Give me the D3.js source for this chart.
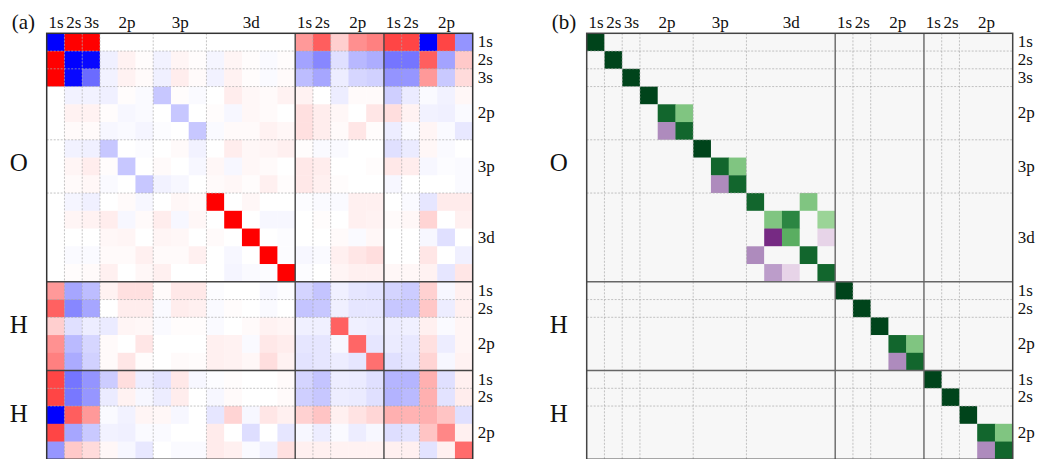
<!DOCTYPE html>
<html><head><meta charset="utf-8">
<script src="https://cdn.jsdelivr.net/npm/d3@7"></script>
<style>
body{margin:0;background:#fff;}
svg text{font-family:"Liberation Serif",serif;fill:#111;}
</style></head><body>
<svg id="chart" width="1037" height="459"></svg>
<script>
// Basis: O (1s 2s 3s 2p×3 3p×3 3d×5), H (1s 2s 2p×3), H (1s 2s 2p×3)
const atoms = ["O", "H", "H"];
const atomSizes = [14, 5, 5];
const shellLabels = ["1s","2s","3s","2p","3p","3d","1s","2s","2p","1s","2s","2p"];
const shellSizes  = [1, 1, 1, 3, 3, 5, 1, 1, 3, 1, 1, 3];

// (a) overlap-type matrix, rows/cols in basis order
const matrixA = [
  [-1, 1, 1, 0, 0, 0, 0, 0, 0, 0, 0, 0, 0, 0, 0.40, 0.63, 0.19, 0.44, 0.50, 0.73, 0.73, -1, 0.73, -0.42],
  [1, -1, -0.97, -0.06, 0.05, 0.01, -0.05, 0.04, 0.01, -0.04, 0.04, 0.01, -0.02, 0.01, -0.36, -0.47, -0.12, -0.28, -0.32, -0.54, -0.54, 0.63, -0.36, 0.21],
  [1, -0.97, -0.58, -0.05, 0.05, 0.02, -0.06, 0.07, 0.02, -0.05, 0.05, 0.01, -0.02, 0.02, -0.26, -0.35, -0.07, -0.16, -0.18, -0.42, -0.41, 0.40, -0.21, 0.14],
  [0, -0.05, -0.05, -0.06, 0.01, -0.02, -0.22, 0.01, -0.02, 0, 0.07, 0.03, 0.02, 0.05, 0.05, 0, -0.07, 0.02, 0.02, -0.19, -0.08, -0.02, -0.05, 0.03],
  [0, 0.05, 0.05, 0.01, -0.03, -0.02, 0, -0.22, 0, 0.01, -0.03, 0.03, 0.02, 0, 0.12, 0.07, 0.03, 0, 0.10, 0.13, 0.05, -0.05, -0.06, -0.02],
  [0, 0.02, 0.02, -0.03, -0.02, -0.04, -0.01, 0, -0.22, -0.02, 0.02, 0.02, 0.05, 0.03, 0.12, 0.07, 0.02, 0.10, 0.01, -0.07, -0.02, 0.04, -0.02, -0.09],
  [0, -0.05, -0.06, -0.22, 0, -0.01, 0, 0.02, -0.05, 0, 0.07, 0.03, 0.04, 0.06, 0.01, -0.02, -0.02, 0, 0, -0.12, -0.08, 0.03, -0.02, 0],
  [0, 0.04, 0.07, 0.01, -0.22, 0, 0.02, 0, -0.03, 0.03, -0.03, 0.03, 0.02, 0, 0.09, 0.07, 0, 0, 0.01, 0.09, 0.07, -0.03, -0.01, -0.02],
  [0, 0.02, 0.03, -0.02, 0, -0.22, -0.05, -0.03, 0, 0.02, 0.03, 0.01, 0.06, 0.01, 0.09, 0.06, 0.01, 0, 0, -0.03, 0, 0, 0, -0.02],
  [0, -0.04, -0.06, 0, 0.02, -0.03, 0, 0.03, 0.02, 1, 0, 0.03, 0, 0, -0.01, -0.02, -0.02, 0.06, 0.06, 0, -0.02, -0.10, 0.08, 0.08],
  [0, 0.04, 0.05, 0.07, -0.03, 0.02, 0.07, -0.03, 0.03, 0, 1, 0, -0.03, -0.03, 0, 0.01, 0, 0.06, 0.05, 0.02, 0.03, 0.17, 0, 0.06],
  [0, 0, 0, 0.03, 0.04, 0, 0.04, 0.03, 0, 0.02, 0, 1, 0, -0.01, 0, 0, 0.02, -0.02, 0.03, 0, 0, -0.03, -0.12, 0],
  [0, -0.02, -0.02, 0.02, 0.02, 0.06, 0.02, 0.02, 0.06, 0, -0.03, 0, 1, -0.01, -0.03, -0.02, 0.06, 0.10, 0.13, 0, 0, 0.10, 0, -0.06],
  [0, 0.01, 0.02, 0.06, 0, 0.03, 0.06, 0, 0, 0, -0.04, -0.02, -0.01, 1, -0.01, 0, 0.04, 0.06, 0.06, 0.03, 0.03, 0.05, -0.10, 0.10],
  [0.40, -0.35, -0.26, 0.05, 0.12, 0.12, 0.02, 0.09, 0.09, -0.01, 0, 0, -0.03, -0.01, -0.17, -0.23, -0.06, -0.10, -0.11, -0.17, -0.20, 0.18, -0.03, 0.06],
  [0.62, -0.47, -0.35, 0, 0.07, 0.07, -0.02, 0.07, 0.06, -0.02, 0.01, 0, -0.02, 0, -0.23, -0.22, -0.06, -0.10, -0.10, -0.22, -0.22, 0.22, -0.07, 0.06],
  [0.19, -0.12, -0.07, -0.08, 0.04, 0.03, -0.02, 0.01, 0.01, -0.02, 0, 0.02, 0.05, 0.04, -0.06, -0.06, 0.62, -0.06, -0.07, -0.07, -0.06, 0.06, -0.02, 0.04],
  [0.43, -0.27, -0.16, 0.02, 0, 0.10, 0, 0, 0, 0.06, 0.05, -0.02, 0.09, 0.07, -0.10, -0.10, -0.03, 0.60, -0.10, -0.08, -0.09, 0.12, -0.07, 0.04],
  [0.50, -0.33, -0.18, 0.02, 0.10, 0.01, 0, 0.02, 0.01, 0.06, 0.05, 0.03, 0.13, 0.05, -0.11, -0.10, -0.07, -0.10, 0.56, -0.12, -0.10, 0.17, -0.03, 0.05],
  [0.73, -0.54, -0.42, -0.20, 0.13, -0.07, -0.11, 0.09, -0.03, -0.01, 0.01, 0, 0, 0.02, -0.17, -0.23, -0.07, -0.08, -0.12, -0.29, -0.29, 0.31, -0.12, 0.06],
  [0.73, -0.53, -0.41, -0.08, 0.05, -0.03, -0.07, 0.07, 0, -0.03, 0.02, 0, 0, 0.02, -0.19, -0.22, -0.07, -0.08, -0.12, -0.30, -0.27, 0.31, -0.11, 0.07],
  [-1, 0.63, 0.40, -0.02, -0.05, 0.04, 0.03, -0.03, 0, -0.10, 0.17, -0.03, 0.10, 0.06, 0.18, 0.23, 0.06, 0.11, 0.16, 0.31, 0.30, 0.31, 0.23, -0.12],
  [0.73, -0.35, -0.21, -0.05, -0.06, -0.02, -0.02, 0, 0, 0.08, 0, -0.13, 0, -0.10, -0.03, -0.07, -0.02, -0.07, -0.03, -0.13, -0.11, 0.23, 0.47, 0.06],
  [-0.41, 0.21, 0.14, 0.03, -0.03, -0.09, 0, -0.02, -0.02, 0.08, 0.06, -0.02, -0.06, 0.12, 0.06, 0.06, 0.05, 0.05, 0.05, 0.06, 0.06, -0.11, 0.06, 0.58]
];

// (b) transformation matrix, same basis order
const matrixB = [
  [1,0,0,0,0,0,0,0,0,0,0,0,0,0,0,0,0,0,0,0,0,0,0,0],
  [0,1,0,0,0,0,0,0,0,0,0,0,0,0,0,0,0,0,0,0,0,0,0,0],
  [0,0,1,0,0,0,0,0,0,0,0,0,0,0,0,0,0,0,0,0,0,0,0,0],
  [0,0,0,1,0,0,0,0,0,0,0,0,0,0,0,0,0,0,0,0,0,0,0,0],
  [0,0,0,0,0.87,0.5,0,0,0,0,0,0,0,0,0,0,0,0,0,0,0,0,0,0],
  [0,0,0,0,-0.5,0.87,0,0,0,0,0,0,0,0,0,0,0,0,0,0,0,0,0,0],
  [0,0,0,0,0,0,1,0,0,0,0,0,0,0,0,0,0,0,0,0,0,0,0,0],
  [0,0,0,0,0,0,0,0.87,0.5,0,0,0,0,0,0,0,0,0,0,0,0,0,0,0],
  [0,0,0,0,0,0,0,-0.5,0.87,0,0,0,0,0,0,0,0,0,0,0,0,0,0,0],
  [0,0,0,0,0,0,0,0,0,0.87,0,0,0.5,0,0,0,0,0,0,0,0,0,0,0],
  [0,0,0,0,0,0,0,0,0,0,0.5,0.75,0,0.43,0,0,0,0,0,0,0,0,0,0],
  [0,0,0,0,0,0,0,0,0,0,-0.8,0.6,0,-0.2,0,0,0,0,0,0,0,0,0,0],
  [0,0,0,0,0,0,0,0,0,-0.5,0,0,0.87,0,0,0,0,0,0,0,0,0,0,0],
  [0,0,0,0,0,0,0,0,0,0,-0.43,-0.2,0,0.87,0,0,0,0,0,0,0,0,0,0],
  [0,0,0,0,0,0,0,0,0,0,0,0,0,0,1,0,0,0,0,0,0,0,0,0],
  [0,0,0,0,0,0,0,0,0,0,0,0,0,0,0,1,0,0,0,0,0,0,0,0],
  [0,0,0,0,0,0,0,0,0,0,0,0,0,0,0,0,1,0,0,0,0,0,0,0],
  [0,0,0,0,0,0,0,0,0,0,0,0,0,0,0,0,0,0.87,0.5,0,0,0,0,0],
  [0,0,0,0,0,0,0,0,0,0,0,0,0,0,0,0,0,-0.5,0.87,0,0,0,0,0],
  [0,0,0,0,0,0,0,0,0,0,0,0,0,0,0,0,0,0,0,1,0,0,0,0],
  [0,0,0,0,0,0,0,0,0,0,0,0,0,0,0,0,0,0,0,0,1,0,0,0],
  [0,0,0,0,0,0,0,0,0,0,0,0,0,0,0,0,0,0,0,0,0,1,0,0],
  [0,0,0,0,0,0,0,0,0,0,0,0,0,0,0,0,0,0,0,0,0,0,0.87,0.5],
  [0,0,0,0,0,0,0,0,0,0,0,0,0,0,0,0,0,0,0,0,0,0,-0.5,0.87]
];

const N = 24;
const SIZE = 426;
const TOP = 33.3;

const svg = d3.select("#chart");

// blue–white–red diverging map
const bwr = d3.scaleLinear().domain([-1, 0, 1])
  .range(["#0000ff", "#ffffff", "#ff0000"]).clamp(true);
// purple–green diverging map, piecewise linear through the 11 PRGn stops
const prgnStops = d3.schemePRGn[11];
const prgn = d3.scaleLinear()
  .domain(prgnStops.map((_, i) => -1 + i * 0.2))
  .range(prgnStops).clamp(true);

const shellEnds = d3.cumsum(shellSizes);
const shellStarts = shellEnds.map((e, i) => e - shellSizes[i]);
const atomEnds = d3.cumsum(atomSizes);
const atomStarts = atomEnds.map((e, i) => e - atomSizes[i]);

function drawPanel(left, matrix, color, tag, frameColor, sepColor) {
  const g = svg.append("g").attr("transform", `translate(${left},${TOP})`);
  const band = d3.scaleBand().domain(d3.range(N)).range([0, SIZE]);
  const pos = d3.scaleLinear().domain([0, N]).range([0, SIZE]);
  const bw = band.bandwidth();

  g.append("rect").attr("width", SIZE).attr("height", SIZE).attr("fill", color(0));

  const cells = [];
  matrix.forEach((row, r) => row.forEach((v, c) => cells.push({ r, c, v })));
  g.append("g").selectAll("rect").data(cells).join("rect")
    .attr("x", d => band(d.c))
    .attr("y", d => band(d.r))
    .attr("width", bw + 0.4)
    .attr("height", bw + 0.4)
    .attr("fill", d => color(d.v));

  // dotted shell separators
  const dotted = shellEnds.filter(e => !atomEnds.includes(e));
  const lines = g.append("g").attr("fill", "none");
  dotted.forEach(e => {
    lines.append("line").attr("x1", pos(e)).attr("x2", pos(e)).attr("y1", 0).attr("y2", SIZE)
      .attr("stroke", "#aaa").attr("stroke-width", 0.7).attr("stroke-dasharray", "2,1.5");
    lines.append("line").attr("y1", pos(e)).attr("y2", pos(e)).attr("x1", 0).attr("x2", SIZE)
      .attr("stroke", "#aaa").attr("stroke-width", 0.7).attr("stroke-dasharray", "2,1.5");
  });
  // solid atom separators
  atomEnds.slice(0, -1).forEach(e => {
    lines.append("line").attr("x1", pos(e)).attr("x2", pos(e)).attr("y1", 0).attr("y2", SIZE)
      .attr("stroke", sepColor).attr("stroke-width", 1.4);
    lines.append("line").attr("y1", pos(e)).attr("y2", pos(e)).attr("x1", 0).attr("x2", SIZE)
      .attr("stroke", sepColor).attr("stroke-width", 1.4);
  });
  g.append("rect").attr("width", SIZE).attr("height", SIZE)
    .attr("fill", "none").attr("stroke", frameColor).attr("stroke-width", 1.5);

  const centers = shellStarts.map((s, i) => s + shellSizes[i] / 2);
  const fmt = (d, i) => shellLabels[i];

  const top = g.append("g").call(d3.axisTop(pos).tickValues(centers).tickFormat(fmt)
    .tickSize(0).tickPadding(5));
  const right = g.append("g").attr("transform", `translate(${SIZE},0)`)
    .call(d3.axisRight(pos).tickValues(centers).tickFormat(fmt).tickSize(0).tickPadding(5));
  [top, right].forEach(ax => {
    ax.select(".domain").remove();
    ax.attr("font-family", null).attr("font-size", null);
    ax.selectAll("text").attr("font-size", 17).attr("fill", "#111");
  });
  right.selectAll("text").attr("dy", "0.27em");

  // atom labels on the left, O sits a little below its block centre
  g.append("g").selectAll("text").data(atoms).join("text")
    .attr("x", -28)
    .attr("y", (d, i) => pos(atomStarts[i] + atomSizes[i] / 2) + (i === 0 ? 5 : -1.5))
    .attr("dy", "0.35em")
    .attr("text-anchor", "middle")
    .attr("font-size", 25)
    .text(d => d);

  g.append("text").attr("x", -35).attr("y", -4).attr("font-size", 21).text(tag);
}

drawPanel(46.7, matrixA, bwr, "(a)", "#333", "#444");
drawPanel(586.7, matrixB, prgn, "(b)", "#444", "#666");
</script>
</body></html>
